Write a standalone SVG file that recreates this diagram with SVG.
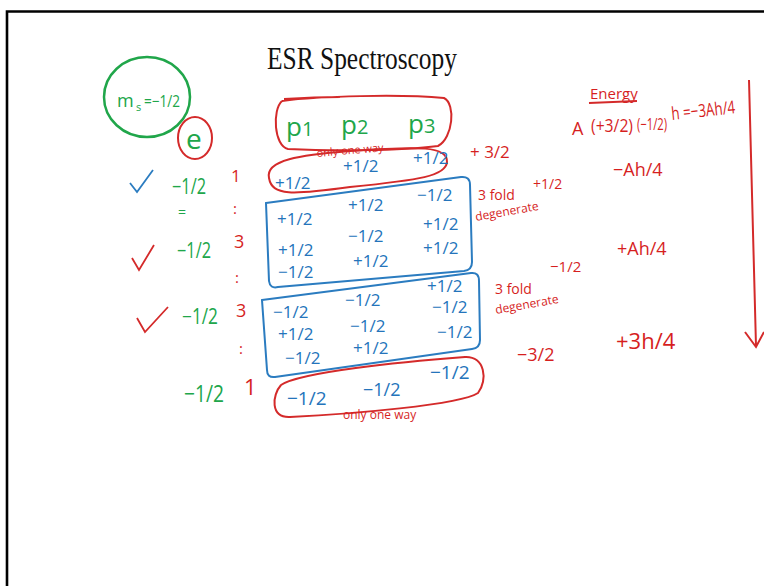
<svg xmlns="http://www.w3.org/2000/svg" width="764" height="586" viewBox="0 0 764 586">
<style>
text{font-family:"Open Sans","Liberation Sans",sans-serif}
.g{fill:#20a64a}.b{fill:#2474bb}.r{fill:#d61f1f}
.sg{fill:none;stroke:#20a64a;stroke-width:2.5}
.sb{fill:none;stroke:#2b7cc0;stroke-width:2}
.sr{fill:none;stroke:#d42a2a;stroke-width:2}
.f{font-size:17px}
.c{font-size:21px}
</style>
<rect width="764" height="586" fill="#fff"/>
<path d="M7,586 L7,11.5 L764,11.5" fill="none" stroke="#000" stroke-width="2.6"/>
<text x="267" y="69" font-size="31" textLength="190" lengthAdjust="spacingAndGlyphs" fill="#111" style="font-family:'Liberation Serif',serif">ESR Spectroscopy</text>

<g id="ms">
<ellipse class="sg" cx="147" cy="97" rx="43" ry="40"/>
<text class="g" x="117" y="107" font-size="18">m</text>
<text class="g" x="136" y="111" font-size="11">s</text>
<text class="g" x="144" y="107" font-size="16" textLength="36" lengthAdjust="spacingAndGlyphs">=−1/2</text>
</g>
<g id="e">
<ellipse class="sr" cx="195" cy="138" rx="17" ry="21"/>
<text class="g" x="186" y="149" font-size="28">e</text>
</g>

<g id="left-col">
<path d="M130,183 L137,192 L153,170" fill="none" stroke="#2b7cc0" stroke-width="1.8"/>
<path d="M132,258 L139,270 L154,245" fill="none" stroke="#d42a2a" stroke-width="1.8"/>
<path d="M137,318 L145,332 L168,307" fill="none" stroke="#d42a2a" stroke-width="1.8"/>
<text class="g c" x="172" y="194" textLength="34" lengthAdjust="spacingAndGlyphs">−1/2</text>
<text class="g" x="178" y="217" font-size="14">=</text>
<text class="g c" x="177" y="258" textLength="34" lengthAdjust="spacingAndGlyphs">−1/2</text>
<text class="g c" x="182" y="324" textLength="36" lengthAdjust="spacingAndGlyphs">−1/2</text>
<text class="g" x="184" y="402" font-size="23" textLength="40" lengthAdjust="spacingAndGlyphs">−1/2</text>
<text class="r" x="231" y="182" font-size="17">1</text>
<text class="r" x="233" y="214" font-size="15">:</text>
<text class="r" x="234" y="248" font-size="18">3</text>
<text class="r" x="235" y="283" font-size="15">:</text>
<text class="r" x="236" y="317" font-size="18">3</text>
<text class="r" x="239" y="354" font-size="15">:</text>
<text class="r" x="244" y="395" font-size="22">1</text>
</g>

<g id="p-row">
<path class="sr" d="M282,101 C320,96 400,94 444,98 C456,104 453,138 438,146 C400,151 330,151 288,149 C274,146 272,110 282,101 M284,99 C300,98 320,97 340,97"/>
<text class="g" x="286" y="136" font-size="26">p<tspan font-size="20">1</tspan></text>
<text class="g" x="341" y="134" font-size="26">p<tspan font-size="20">2</tspan></text>
<text class="g" x="408" y="133" font-size="26">p<tspan font-size="20">3</tspan></text>
<text class="r" x="317" y="157" font-size="11" transform="rotate(-5 317 157)">only one way</text>
</g>

<g id="row1">
<path class="sr" stroke-width="1.6" d="M269,178 C265,160 300,155 350,151 C420,146 448,146 447,162 C446,176 420,180 350,187 C292,195 272,196 269,178 Z"/>
<text class="b f" x="275" y="189">+1/2</text>
<text class="b f" x="343" y="172">+1/2</text>
<text class="b f" x="413" y="164">+1/2</text>
</g>

<g id="box1">
<path class="sb" d="M266,203 L461,177 Q470,176 470,185 L472,262 Q472,270 464,271 L278,287 Q270,289 269,281 Z"/>
<text class="b f" x="277" y="225">+1/2</text>
<text class="b f" x="348" y="211">+1/2</text>
<text class="b f" x="417" y="201">−1/2</text>
<text class="b f" x="423" y="230">+1/2</text>
<text class="b f" x="348" y="242">−1/2</text>
<text class="b f" x="278" y="256">+1/2</text>
<text class="b f" x="353" y="267">+1/2</text>
<text class="b f" x="423" y="254">+1/2</text>
<text class="b f" x="278" y="278">−1/2</text>
</g>

<g id="box2">
<path class="sb" d="M262,300 L471,273 Q479,272 479,281 L480,340 Q480,348 472,349 L275,377 Q267,378 267,370 Z"/>
<text class="b f" x="427" y="292">+1/2</text>
<text class="b f" x="345" y="306">−1/2</text>
<text class="b f" x="273" y="318">−1/2</text>
<text class="b f" x="432" y="313">−1/2</text>
<text class="b f" x="278" y="340">+1/2</text>
<text class="b f" x="350" y="332">−1/2</text>
<text class="b f" x="437" y="338">−1/2</text>
<text class="b f" x="285" y="364">−1/2</text>
<text class="b f" x="353" y="354">+1/2</text>
</g>

<g id="row8">
<path class="sr" stroke-width="1.6" d="M281,385 C300,372 400,362 465,357 C485,356 488,380 478,393 C460,405 350,414 290,417 C270,418 272,395 281,385"/>
<text class="b" x="287" y="405" font-size="19">−1/2</text>
<text class="b" x="363" y="396" font-size="18">−1/2</text>
<text class="b" x="430" y="379" font-size="19">−1/2</text>
<text class="r" x="343" y="419" font-size="12">only one way</text>
</g>

<g id="right">
<text class="r" x="470" y="158" font-size="17">+ 3/2</text>
<text class="r" x="478" y="200" font-size="14">3 fold</text>
<text class="r" x="476" y="221" font-size="12" transform="rotate(-10 476 221)">degenerate</text>
<text class="r" x="533" y="189" font-size="14">+1/2</text>
<text class="r" x="590" y="99" font-size="15">Energy</text>
<line x1="589" y1="103" x2="637" y2="101" stroke="#d42a2a" stroke-width="1.8"/>
<text class="r" x="572" y="135" font-size="18">A</text>
<text class="r" x="591" y="132" font-size="18" textLength="42" lengthAdjust="spacingAndGlyphs">(+3/2)</text>
<text class="r" x="637" y="130" font-size="16" textLength="30" lengthAdjust="spacingAndGlyphs">(−1/2)</text>
<text class="r" x="672" y="120" font-size="18" textLength="64" lengthAdjust="spacingAndGlyphs" transform="rotate(-6 672 120)">h =−3Ah/4</text>
<text class="r" x="613" y="176" font-size="18">−Ah/4</text>
<text class="r" x="617" y="255" font-size="18">+Ah/4</text>
<text class="r" x="550" y="272" font-size="15">−1/2</text>
<text class="r" x="495" y="294" font-size="14">3 fold</text>
<text class="r" x="496" y="314" font-size="12" transform="rotate(-10 496 314)">degenerate</text>
<text class="r" x="517" y="361" font-size="18">−3/2</text>
<text class="r" x="616" y="349" font-size="22">+3h/4</text>
<path d="M749,80 L756,346 M745,332 L756,347 L764,332" fill="none" stroke="#d42a2a" stroke-width="2"/>
</g>
</svg>
